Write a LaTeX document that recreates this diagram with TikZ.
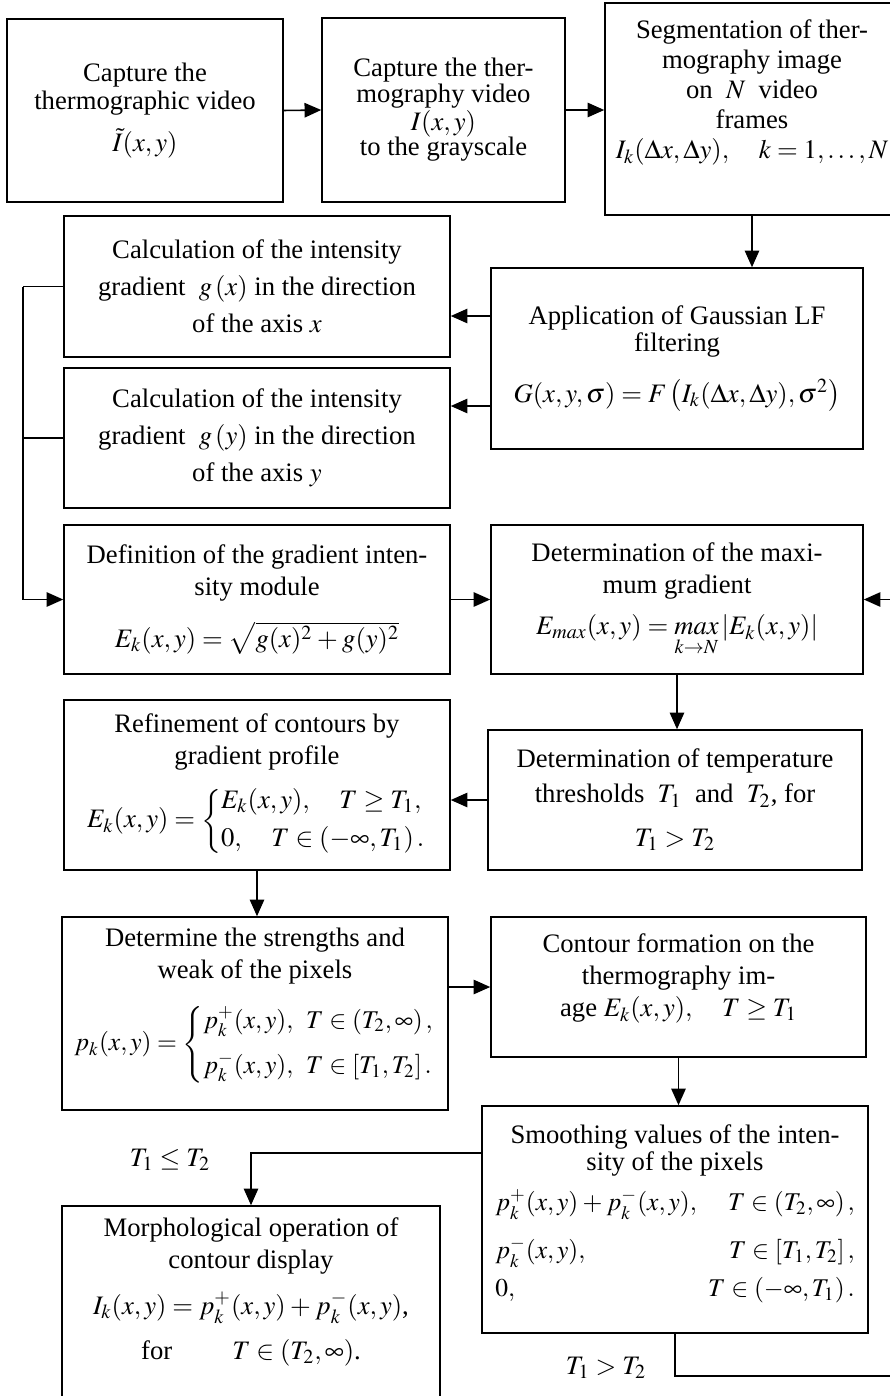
\documentclass[tikz,border=0pt]{standalone}
\usepackage{amsmath}
\usepackage{mathptmx}
\usepackage{fontspec}
\setmainfont{Liberation Serif}
\usetikzlibrary{arrows.meta}
\newcommand{\unitpx}{0.45pt}
\thickmuskip=4mu plus 2mu
\medmuskip=3mu plus 1mu

\begin{document}
\begin{tikzpicture}[x=\unitpx,y=-\unitpx,line width=0.7pt,>={Triangle[length=7.5pt,width=6.5pt]},
  block/.style={draw,align=center,inner sep=1pt,font=\fontsize{12}{14.4}\selectfont},
  sz/.style 2 args={minimum width=#1*\unitpx,minimum height=#2*\unitpx}]
  \useasboundingbox (0,0) rectangle (890,1396);
  % capture and segmentation
  \node[block,sz={276}{183},font=\fontsize{12}{12.6}\selectfont] (cap) at (145,110.5) {Capture the\\ thermographic video\\[6pt] $\tilde{I}(x,y)$};
  \node[block,sz={243}{184},font=\fontsize{12}{11.5}\selectfont] (gray) at (443.5,110) {Capture the ther-\\ mography video\\ $I(x,y)$\\ to the grayscale};
  \node[block,sz={294}{212},font=\fontsize{12}{13.5}\selectfont] (seg) at (752,109) {Segmentation of ther-\\ mography image\\ on \ $N$ \ video\\ frames\\ $I_k(\Delta x,\Delta y),\quad k=1,\dots,N$\\ \strut};
  % filtering and gradients
  \node[block,sz={372}{181},font=\fontsize{12}{10.5}\selectfont] (gauss) at (677,358.5) {Application of Gaussian LF\\ filtering\\[9pt] $G(x,y,\sigma)=F\left(I_k(\Delta x,\Delta y),\sigma^2\right)$};
  \node[block,sz={386}{141},font=\fontsize{12}{16.6}\selectfont] (calcx) at (257,286.5) {Calculation of the intensity\\ gradient \ $g\left(x\right)$ in the direction\\ of the axis $x$};
  \node[block,sz={386}{140},font=\fontsize{12}{16.6}\selectfont] (calcy) at (257,438) {Calculation of the intensity\\ gradient \ $g\left(y\right)$ in the direction\\ of the axis $y$};
  \node[block,sz={386}{149}] (def) at (257,599.5) {Definition of the gradient inten-\\ sity module\\[9pt] $E_k(x,y)=\sqrt{g(x)^2+g(y)^2}$};
  \node[block,sz={372}{149}] (max) at (677,599.5) {Determination of the maxi-\\ mum gradient\\[4pt] $E_{max}(x,y)=\mathop{max}\limits_{k\to N}\left|E_k(x,y)\right|$};
  % thresholds
  \node[block,sz={374}{140},font=\fontsize{12}{15.75}\selectfont] (thr) at (675,800) {Determination of temperature\\ thresholds \ $T_1$ \ and \ $T_2$, for\\[4pt] $T_1>T_2$};
  \node[block,sz={386}{170}] (refine) at (257,785) {Refinement of contours by\\ gradient profile\\[6pt] $E_k(x,y)=\left\{\begin{array}{@{}l@{}} E_k(x,y),\quad T\ge T_1,\\[3pt] 0,\quad T\in\left(-\infty,T_1\right).\end{array}\right.$};
  \node[block,sz={386}{193}] (det) at (255,1013.5) {Determine the strengths and\\ weak of the pixels\\[9pt] {\fontsize{11.5}{13}\selectfont$p_k(x,y)=\left\{\begin{array}{@{}l@{\enspace}l@{}} p_k^{+}(x,y), & T\in\left(T_2,\infty\right),\\[7pt] p_k^{-}(x,y), & T\in\left[T_1,T_2\right].\end{array}\right.$}\\[-8pt] \strut};
  \node[block,sz={375}{140}] (contour) at (678.5,987) {Contour formation on the\\ thermography im-\\ age $E_k(x,y),\quad T\ge T_1$\\[-8pt] \strut};
  % smoothing and morphology
  \node[block,sz={386}{227},font=\fontsize{12}{12}\selectfont] (smooth) at (675,1219.5) {Smoothing values of the inten-\\ sity of the pixels\\[5pt] {\fontsize{11.5}{13}\selectfont$\begin{array}{@{}l@{\;\;}r@{}} p_k^{+}(x,y)+p_k^{-}(x,y), & T\in\left(T_2,\infty\right),\\[8pt] p_k^{-}(x,y), & T\in\left[T_1,T_2\right],\\[4pt] 0, & T\in\left(-\infty,T_1\right).\end{array}$}\\[-9pt] \strut};
  \node[block,sz={378}{194}] (morph) at (251,1303) {Morphological operation of\\ contour display\\[6pt] $I_k(x,y)=p_k^{+}(x,y)+p_k^{-}(x,y)$,\\[6pt] for \qquad $T\in\left(T_2,\infty\right)$.\\[-6pt] \strut};
  \node[font=\fontsize{12}{14}\selectfont] (le) at (170,1160) {$T_1\le T_2$};
  \node[font=\fontsize{12}{14}\selectfont] (gt) at (606,1368) {$T_1>T_2$};
  % connectors
  \draw[->] (cap.east) -- (gray.west);
  \draw[->] (gray.east) -- (gray.east -| seg.west);
  \draw[->] (seg.south) -- (seg.south |- gauss.north);
  \draw[->] (gauss.west |- 0,316) -- (calcx.east |- 0,316);
  \draw[->] (gauss.west |- 0,406) -- (calcy.east |- 0,406);
  \coordinate (bus) at (23,284);
  \draw (calcx.west) -- (calcx.west -| bus);
  \draw (calcy.west) -- (calcy.west -| bus);
  \draw[->] (calcx.west -| bus) |- (def.west);
  \draw[->] (def.east) -- (max.west);
  \draw[->] (max.south) -- (max.south |- thr.north);
  \draw[->] (thr.west) -- (thr.west -| refine.east);
  \draw[->] (refine.south) -- (refine.south |- det.north);
  \draw[->] (contour.west -| det.east) -- (contour.west);
  \draw[->] (contour.south) -- (contour.south |- smooth.north);
  \draw[->] (smooth.west |- 0,1153) -| (morph.north);
  % back to the maximum gradient
  \coordinate (fb) at (900,1376);
  \draw[->] (smooth.south) |- (fb) |- (max.east);
\end{tikzpicture}
\end{document}
